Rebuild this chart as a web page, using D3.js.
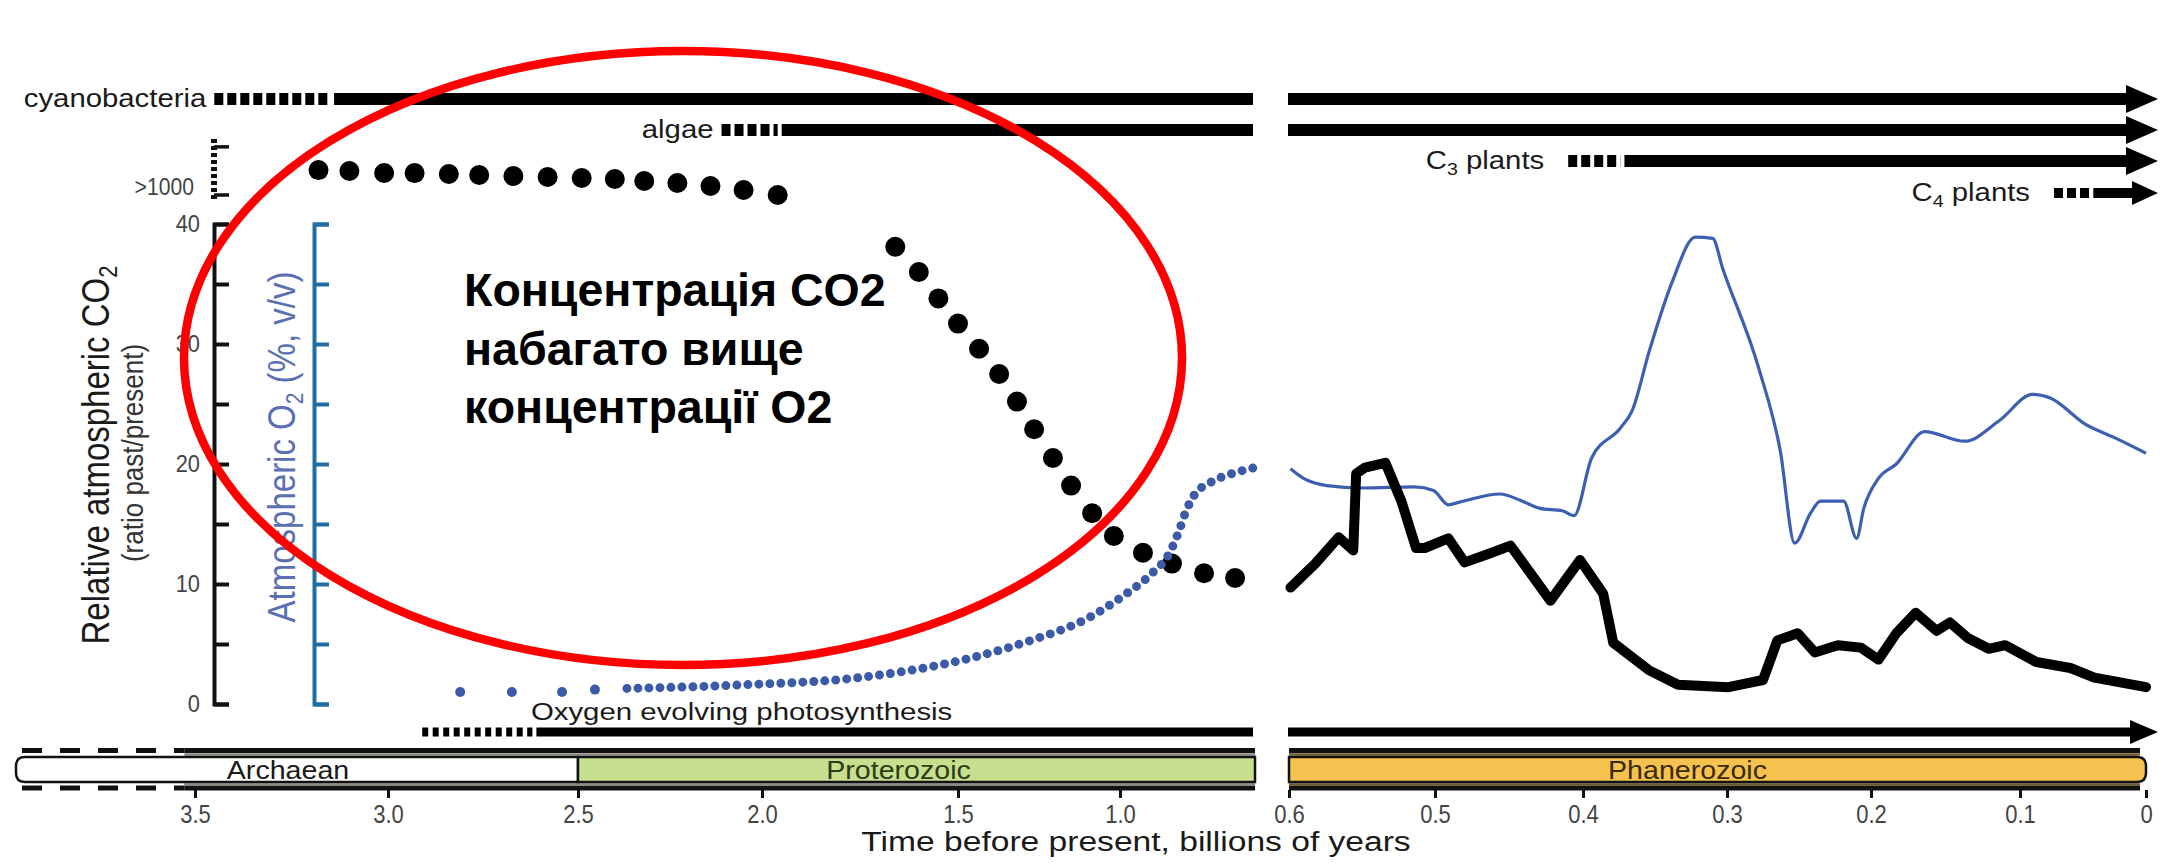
<!DOCTYPE html>
<html>
<head>
  <meta http-equiv="Content-Type" content="text/html;charset=utf-8" />
  <style type="text/css">
    body { margin: 0; background: #fff; }
    svg { display: block; font-family: "Liberation Sans", Arial, sans-serif; }
  </style>
</head>
<body>
  <div id="svgContainer"></div>
  <script src="https://d3js.org/d3.v7.min.js"></script>
  <script type="text/javascript">
    var w = 2164, h = 863;

    // ---- data (time in billions of years before present) ----
    var xTicksLeft = [3.5, 3.0, 2.5, 2.0, 1.5, 1.0];
    var xTicksRight = [0.6, 0.5, 0.4, 0.3, 0.2, 0.1, 0];
    var yTickLabels = [0, 10, 20, 30, 40];
    var yTicksAll = [0, 5, 10, 15, 20, 25, 30, 35, 40];

    // CO2 above the axis break (">1000")
    var co2HighTime = [3.18, 3.10, 3.01, 2.93, 2.84, 2.76, 2.67, 2.58, 2.49, 2.40, 2.32, 2.23, 2.14, 2.05, 1.96];
    var co2HighVal = [1430, 1414, 1380, 1378, 1362, 1345, 1328, 1310, 1293, 1276, 1241, 1207, 1155, 1086, 1000];

    // CO2 dots, Proterozoic decline
    var co2DotTime = [1.66, 1.60, 1.55, 1.50, 1.435, 1.373, 1.318, 1.265, 1.207, 1.151, 1.086, 1.019, 0.932, 0.846, 0.751, 0.659];
    var co2DotVal = [38.1, 36.0, 33.8, 31.7, 29.6, 27.5, 25.2, 22.9, 20.5, 18.2, 15.9, 14.0, 12.6, 11.7, 10.9, 10.5];

    // O2 (% v/v), Precambrian
    var o2EarlyTime = [2.81, 2.674, 2.542, 2.454];
    var o2EarlyVal = [1.0, 1.0, 1.0, 1.2];
    var o2RiseTime = [2.367, 2.049, 1.753, 1.451, 1.275, 1.096, 0.991, 0.905, 0.855, 0.828, 0.804, 0.778, 0.736, 0.668, 0.6];
    var o2RiseVal = [1.3, 1.6, 2.2, 3.9, 5.3, 7.2, 9.0, 10.9, 12.5, 14.2, 16.1, 17.5, 18.4, 19.2, 19.7];

    // Phanerozoic CO2 (ratio past/present)
    var co2PhanTime = [0.599, 0.582, 0.566, 0.556, 0.554, 0.548, 0.534, 0.523, 0.513, 0.507, 0.491, 0.480, 0.464, 0.449, 0.422, 0.402, 0.386, 0.379, 0.354, 0.334, 0.299, 0.275, 0.265, 0.251, 0.239, 0.223, 0.207, 0.195, 0.183, 0.170, 0.156, 0.147, 0.135, 0.121, 0.110, 0.087, 0.060, 0.041, 0];
    var co2PhanVal = [9.7, 11.7, 13.9, 12.8, 19.2, 19.7, 20.1, 16.9, 13.0, 13.0, 13.8, 11.8, 12.5, 13.2, 8.6, 12.0, 9.2, 5.1, 2.8, 1.6, 1.4, 2.0, 5.3, 5.9, 4.3, 4.9, 4.7, 3.7, 5.9, 7.6, 6.1, 6.8, 5.5, 4.6, 4.9, 3.5, 3.0, 2.2, 1.4];

    // Phanerozoic O2 (% v/v)
    var o2PhanTime = [0.599, 0.590, 0.574, 0.550, 0.514, 0.501, 0.491, 0.484, 0.456, 0.441, 0.429, 0.414, 0.406, 0.394, 0.374, 0.366, 0.354, 0.338, 0.322, 0.310, 0.303, 0.278, 0.263, 0.253, 0.242, 0.235, 0.219, 0.210, 0.205, 0.195, 0.183, 0.164, 0.137, 0.114, 0.090, 0.076, 0.048, 0.025, 0];
    var o2PhanVal = [19.6, 18.8, 18.2, 18.0, 18.1, 17.8, 16.6, 16.8, 17.5, 16.9, 16.3, 16.1, 15.7, 20.5, 23.0, 24.4, 29.4, 35.2, 38.9, 38.8, 36.3, 28.0, 21.1, 13.4, 15.9, 16.9, 16.9, 13.8, 16.3, 18.8, 20.0, 22.7, 21.9, 23.6, 25.8, 25.5, 23.3, 22.2, 20.9];

    // first appearances: dotted (uncertain) start, solid start
    var lifeNames = ["cyanobacteria", "algae", "C|3| plants", "C|4| plants"];
    var lifeDotStart = [3.45, 2.11, 0.41, 0.073];
    var lifeLineStart = [3.15, 1.96, 0.374, 0.045];
    var photoName = "Oxygen evolving photosynthesis";
    var photoDotStart = 2.91, photoLineStart = 2.62;

    var eonNames = ["Archaean", "Proterozoic", "Phanerozoic"];
    var eonStart = [4.0, 2.5, 0.6];
    var eonEnd = [2.5, 0.6, 0];
    var eonColors = ["#ffffff", "#c7df8f", "#f6c24f"];

    var noteLines = ["Концентрація CO2", "набагато вище", "концентрації O2"];

    // ---- svg + scales ----
    var svg = d3.select("#svgContainer").append("svg")
      .attr("width", w).attr("height", h);

    // the two panels of the time axis (drawn figure is not quite linear)
    var xL = d3.scaleLinear().domain([4.0, 3.5, 3.0, 2.5, 2.0, 1.5, 1.0, 0.6])
      .range([16, 195, 388, 578, 762, 958, 1120, 1255]);
    var xR = d3.scaleLinear().domain([0.6, 0.5, 0.4, 0.3, 0.2, 0.1, 0])
      .range([1289, 1435, 1583, 1727, 1871, 2020, 2146]);
    function xT(t, panel) { return panel === "R" ? xR(t) : xL(t); }

    var yAxisScale = d3.scaleLinear().domain([0, 40]).range([704, 224]);
    // broken CO2 axis: 0..40 below, ">1000" band above
    var yCO2 = d3.scaleLinear().domain([0, 40, 1000, 2000]).range([704, 224, 195, 137]);
    var yO2 = d3.scaleLinear().domain([0, 40]).range([704, 224]);

    var sxText = 1.15; // figure lettering is a little wide

    function txt(x, y, s, size, anchor, fill, sx) {
      return svg.append("text")
        .attr("transform", "translate(" + x + "," + y + ") scale(" + (sx || sxText) + ",1)")
        .attr("text-anchor", anchor || "start")
        .attr("font-size", size)
        .attr("fill", fill || "#1a1a1a")
        .text(s);
    }

    // ---- y axes ----
    var axL = 214, axO = 314;
    var gAx = svg.append("g").attr("transform", "translate(" + axL + ",0)")
      .call(d3.axisRight(yAxisScale).tickValues(yTicksAll).tickSize(15).tickFormat(""));
    gAx.selectAll("path, line").attr("stroke", "#111").attr("stroke-width", 4);

    yTickLabels.forEach(function (v) {
      txt(axL - 14, yAxisScale(v) + 8, String(v), 23, "end", "#444", 0.95);
    });

    var gO = svg.append("g").attr("transform", "translate(" + axO + ",0)")
      .call(d3.axisRight(yO2).tickValues(yTicksAll).tickSize(15).tickFormat(""));
    gO.selectAll("path, line").attr("stroke", "#1f6ca6").attr("stroke-width", 4);

    // broken part of CO2 axis
    svg.append("line").attr("x1", axL).attr("x2", axL)
      .attr("y1", yCO2(1000) + 4).attr("y2", yCO2(2000))
      .attr("stroke", "#111").attr("stroke-width", 6).attr("stroke-dasharray", "4 3");
    [1000, 1830].forEach(function (v) {
      svg.append("line").attr("x1", axL).attr("x2", axL + 15)
        .attr("y1", yCO2(v)).attr("y2", yCO2(v))
        .attr("stroke", "#111").attr("stroke-width", 3.5);
    });
    txt(axL - 20, yCO2(1000), ">1000", 23, "end", "#444", 0.92);

    // axis titles (rotated)
    function vtxt(x, y, size, fill) {
      return svg.append("text")
        .attr("transform", "translate(" + x + "," + y + ") scale(" + 1.15 + ",1) rotate(-90)")
        .attr("text-anchor", "middle")
        .attr("font-size", size)
        .attr("fill", fill);
    }
    var t1 = vtxt(109, 455, 33, "#1a1a1a");
    t1.append("tspan").text("Relative atmospheric CO");
    t1.append("tspan").attr("font-size", 22).attr("dy", 7).text("2");
    vtxt(143, 453, 26, "#333").text("(ratio past/present)");
    var t2 = vtxt(295, 447, 33, "#5b6fb4");
    t2.append("tspan").text("Atmospheric O");
    t2.append("tspan").attr("font-size", 21).attr("dy", 7).text("2");
    t2.append("tspan").attr("dy", -7).text(" (%, v/v)");

    // ---- life rows ----
    var rowY = [99, 130, 161, 193];
    var tipX = xR(0) + 12;

    function arrow(xa, y, sw, hl, hh) {
      svg.append("line").attr("x1", xa).attr("x2", tipX - hl + 2).attr("y1", y).attr("y2", y)
        .attr("stroke", "#000").attr("stroke-width", sw);
      svg.append("path")
        .attr("d", "M" + (tipX - hl) + "," + (y - hh) + "L" + tipX + "," + y + "L" + (tipX - hl) + "," + (y + hh) + "Z")
        .attr("fill", "#000");
    }

    function lifeRow(tDot, tLine, y, sw, dash, hl, hh) {
      var panel = tDot > 0.6 ? "L" : "R";
      var x0 = xT(tDot, panel), x1 = xT(tLine, panel);
      svg.append("line").attr("x1", x0).attr("x2", x1).attr("y1", y).attr("y2", y)
        .attr("stroke", "#000").attr("stroke-width", sw).attr("stroke-dasharray", dash);
      if (panel === "L") {
        svg.append("line").attr("x1", x1 + 4).attr("x2", xL(0.6) - 2).attr("y1", y).attr("y2", y)
          .attr("stroke", "#000").attr("stroke-width", sw);
        arrow(xR(0.6) - 1, y, sw, hl, hh);
      } else {
        arrow(x1 + 4, y, sw, hl, hh);
      }
      return x0;
    }

    lifeNames.forEach(function (name, i) {
      var sw = i === 3 ? 10 : 12;
      var x0 = lifeRow(lifeDotStart[i], lifeLineStart[i], rowY[i], sw, "9 4", i === 3 ? 26 : 32, i === 3 ? 12 : 14);
      var parts = name.split("|");
      var gap = i >= 2 ? 24 : 8;
      var t = txt(x0 - gap, rowY[i] + 8, "", 25.5, "end", "#1a1a1a");
      t.append("tspan").text(parts[0]);
      if (parts.length > 1) {
        t.append("tspan").attr("font-size", 17).attr("dy", 6).text(parts[1]);
        t.append("tspan").attr("dy", -6).text(parts[2]);
      }
    });

    // oxygen evolving photosynthesis
    var photoY = 732;
    lifeRow(photoDotStart, photoLineStart, photoY, 9, "6 4.5", 28, 12);
    txt((xL(photoDotStart) + xL(0.6)) / 2 - 97, 720, photoName, 24.5, "middle", "#1a1a1a", 1.2);

    // ---- eon bar ----
    var barT = 757, barB = 782;
    function box(x0, x1, rl, rr) {
      return "M" + (x0 + rl) + "," + barT + "H" + (x1 - rr)
        + (rr ? "Q" + x1 + "," + barT + " " + x1 + "," + (barT + rr) + "V" + (barB - rr) + "Q" + x1 + "," + barB + " " + (x1 - rr) + "," + barB : "V" + barB)
        + "H" + (x0 + rl)
        + (rl ? "Q" + x0 + "," + barB + " " + x0 + "," + (barB - rl) + "V" + (barT + rl) + "Q" + x0 + "," + barT + " " + (x0 + rl) + "," + barT : "V" + barT)
        + "Z";
    }
    var bandY = [750.5, 788];
    bandY.forEach(function (by) {
      svg.append("line").attr("x1", 22).attr("x2", xL(3.53)).attr("y1", by).attr("y2", by)
        .attr("stroke", "#111").attr("stroke-width", 5).attr("stroke-dasharray", "20 18");
      svg.append("line").attr("x1", xL(3.53)).attr("x2", xL(0.6)).attr("y1", by).attr("y2", by)
        .attr("stroke", "#111").attr("stroke-width", 5);
      svg.append("line").attr("x1", xR(0.6)).attr("x2", xR(0) - 6).attr("y1", by).attr("y2", by)
        .attr("stroke", "#111").attr("stroke-width", 5);
    });
    [754.5, 784.5].forEach(function (gy) {
      svg.append("line").attr("x1", xL(3.53)).attr("x2", xL(0.6)).attr("y1", gy).attr("y2", gy)
        .attr("stroke", "#8a8a80").attr("stroke-width", 2.5);
      svg.append("line").attr("x1", xR(0.6)).attr("x2", xR(0) - 6).attr("y1", gy).attr("y2", gy)
        .attr("stroke", "#6e5a30").attr("stroke-width", 2.5);
    });

    eonNames.forEach(function (name, i) {
      var panel = i === 2 ? "R" : "L";
      var x0 = xT(eonStart[i], panel), x1 = xT(eonEnd[i], panel);
      svg.append("path").attr("d", box(x0, x1, i === 0 ? 9 : 0, i === 2 ? 9 : 0))
        .attr("fill", eonColors[i]).attr("stroke", "#111").attr("stroke-width", 2.5);
      var lx = (x0 + x1) / 2 - [9, 18, 30][i];
      txt(lx, barB - 3, name, 26, "middle", ["#1a1a1a", "#2f3b14", "#3a2a06"][i], 1.1);
    });

    // ---- x axes ----
    var gxL = svg.append("g").attr("transform", "translate(0,790)")
      .call(d3.axisBottom(xL).tickValues(xTicksLeft).tickSize(8).tickPadding(7).tickFormat(d3.format(".1f")));
    var gxR = svg.append("g").attr("transform", "translate(0,790)")
      .call(d3.axisBottom(xR).tickValues(xTicksRight).tickSize(8).tickPadding(7)
        .tickFormat(function (d) { return d === 0 ? "0" : d.toFixed(1); }));
    [gxL, gxR].forEach(function (g) {
      g.select(".domain").remove();
      g.selectAll("line").attr("stroke", "#111").attr("stroke-width", 3);
      g.selectAll("text").attr("font-size", 25).attr("fill", "#444")
        .attr("font-family", "Liberation Sans, Arial, sans-serif")
        .attr("transform", "scale(0.88,1)");
    });
    txt(1136, 851, "Time before present, billions of years", 28, "middle", "#1a1a1a", 1.2);

    // ---- Precambrian marks ----
    svg.selectAll(".co2high").data(co2HighTime).enter().append("circle")
      .attr("cx", function (d) { return xL(d); })
      .attr("cy", function (d, i) { return yCO2(co2HighVal[i]); })
      .attr("r", 10).attr("fill", "#000");

    svg.selectAll(".co2dot").data(co2DotTime).enter().append("circle")
      .attr("cx", function (d) { return xL(d); })
      .attr("cy", function (d, i) { return yCO2(co2DotVal[i]); })
      .attr("r", 10).attr("fill", "#000");

    svg.selectAll(".o2early").data(o2EarlyTime).enter().append("circle")
      .attr("cx", function (d) { return xL(d); })
      .attr("cy", function (d, i) { return yO2(o2EarlyVal[i]); })
      .attr("r", 5).attr("fill", "#3b5aa8");

    var o2Line = d3.line()
      .x(function (d) { return xL(d[0]); })
      .y(function (d) { return yO2(d[1]); })
      .curve(d3.curveMonotoneX);
    svg.append("path")
      .attr("d", o2Line(o2RiseTime.map(function (t, i) { return [t, o2RiseVal[i]]; })))
      .attr("fill", "none").attr("stroke", "#3b5aa8").attr("stroke-width", 9)
      .attr("stroke-linecap", "round").attr("stroke-dasharray", "0 11");

    // ---- Phanerozoic lines ----
    var phanO2 = d3.line()
      .x(function (d) { return xR(d[0]); })
      .y(function (d) { return yO2(d[1]); })
      .curve(d3.curveMonotoneX);
    svg.append("path")
      .attr("d", phanO2(o2PhanTime.map(function (t, i) { return [t, o2PhanVal[i]]; })))
      .attr("fill", "none").attr("stroke", "#3c5fb1").attr("stroke-width", 3.2);

    var phanCO2 = d3.line()
      .x(function (d) { return xR(d[0]); })
      .y(function (d) { return yCO2(d[1]); });
    svg.append("path")
      .attr("d", phanCO2(co2PhanTime.map(function (t, i) { return [t, co2PhanVal[i]]; })))
      .attr("fill", "none").attr("stroke", "#000").attr("stroke-width", 10)
      .attr("stroke-linejoin", "round").attr("stroke-linecap", "round");

    // ---- annotation ----
    svg.append("ellipse")
      .attr("cx", 683).attr("cy", 358).attr("rx", 499).attr("ry", 307)
      .attr("fill", "none").attr("stroke", "#ff0000").attr("stroke-width", 8.5);

    noteLines.forEach(function (s, i) {
      svg.append("text").attr("x", 464).attr("y", 306 + i * 58.5)
        .attr("font-size", 46.5).attr("font-weight", "bold").attr("fill", "#000")
        .text(s);
    });
  </script>
</body>
</html>
